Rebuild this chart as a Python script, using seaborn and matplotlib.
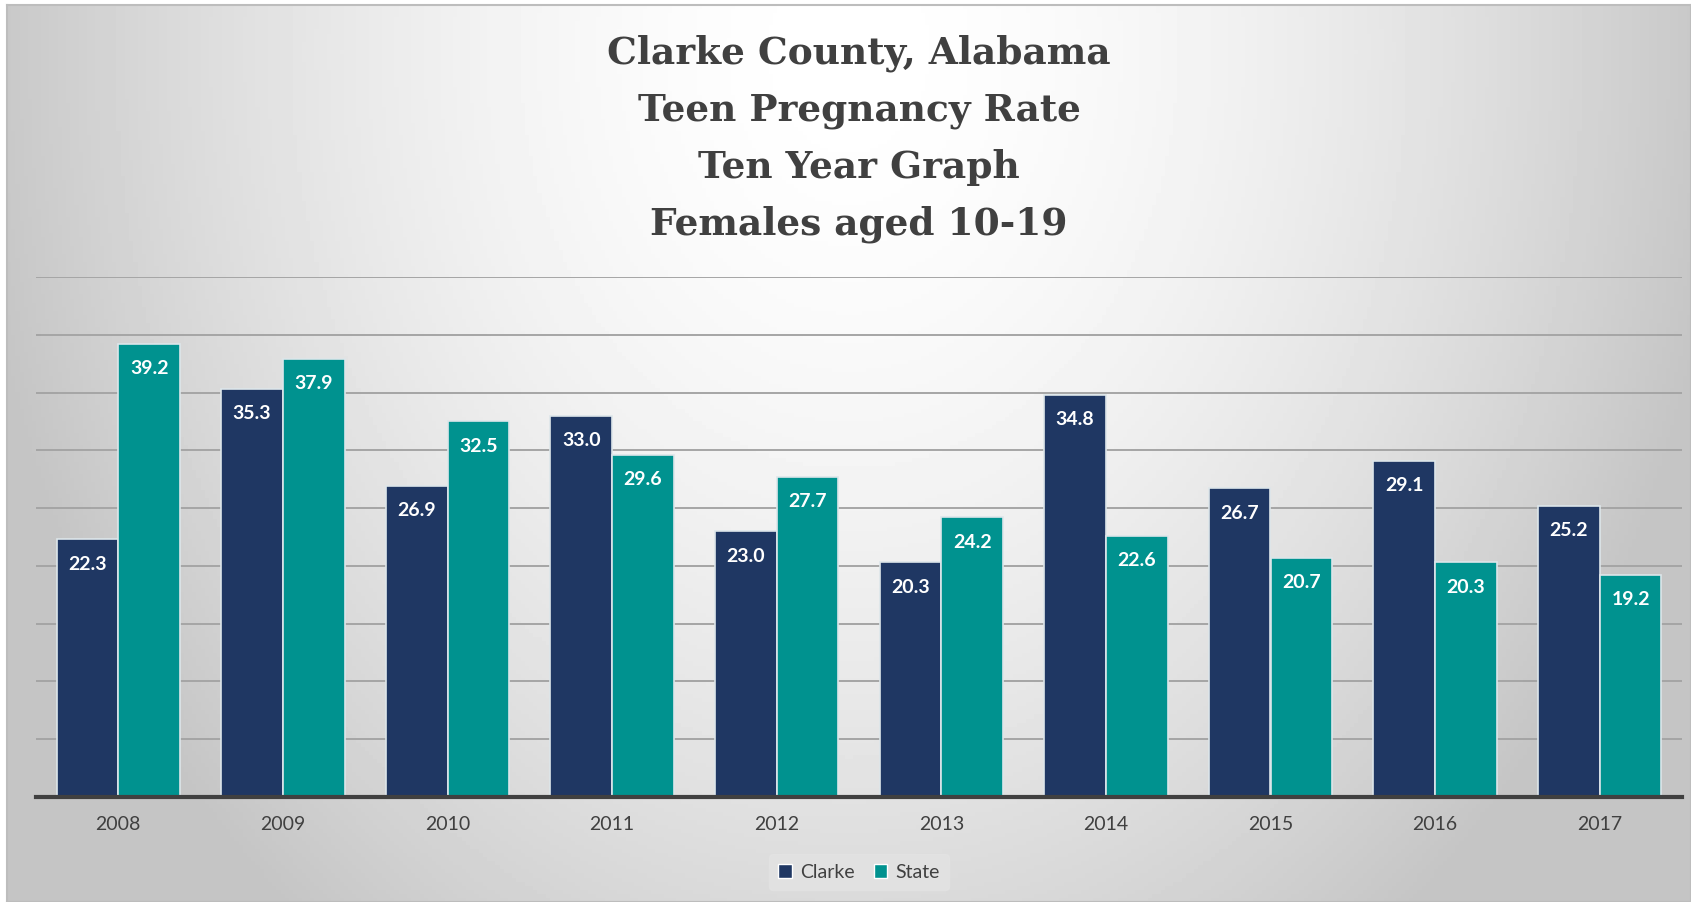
import numpy as np
import pandas as pd
import seaborn as sns
import matplotlib.pyplot as plt
from matplotlib.patches import Patch

years = ["2008", "2009", "2010", "2011", "2012", "2013", "2014", "2015", "2016", "2017"]
clarke = [22.3, 35.3, 26.9, 33.0, 23.0, 20.3, 34.8, 26.7, 29.1, 25.2]
state = [39.2, 37.9, 32.5, 29.6, 27.7, 24.2, 22.6, 20.7, 20.3, 19.2]
series = ["Clarke", "State"]
colors = ["#1F3763", "#00928F"]
title = "Clarke County, Alabama\nTeen Pregnancy Rate\nTen Year Graph\nFemales aged 10-19"


def main():
    df = pd.DataFrame({
        "Year": years * 2,
        "Rate": clarke + state,
        "Series": [series[0]] * len(years) + [series[1]] * len(years),
    })

    sns.set_theme(style="white")
    plt.rcParams["font.family"] = ["Lato", "DejaVu Sans"]

    fig = plt.figure(figsize=(16.91, 9.02), dpi=100)
    fig.patch.set_facecolor("white")

    # soft grey gradient panel behind the chart
    bg = fig.add_axes([7 / 1691, 0, 1684 / 1691, 897 / 902], zorder=-10)
    xx, yy = np.meshgrid(np.linspace(-1, 1, 400), np.linspace(0, 1, 220))
    dist = np.sqrt((xx / 1.05) ** 2 + ((yy - 0.05) / 1.25) ** 2)
    bg.imshow(1 - 0.23 * np.clip(dist, 0, 1) ** 1.7, cmap="gray", vmin=0, vmax=1,
              aspect="auto", extent=[0, 1, 0, 1], origin="upper")
    bg.set_xticks([])
    bg.set_yticks([])
    for s in bg.spines.values():
        s.set_color("#BDBDBD")
        s.set_linewidth(1.5)

    ax = fig.add_axes([36 / 1691, 105 / 902, 1646 / 1691, 520 / 902])
    ax.patch.set_alpha(0)
    sns.barplot(data=df, x="Year", y="Rate", hue="Series", palette=colors,
                saturation=1, width=0.75, edgecolor="#DDE6EA", linewidth=1.2,
                ax=ax, legend=False, zorder=3)

    ax.set_ylim(0, 45)
    ax.set_xlim(-0.5, len(years) - 0.5)
    ax.set_yticks(np.arange(0, 46, 5))
    ax.set_yticklabels([])
    ax.yaxis.grid(True, color="#A5A5A5", linewidth=1.4)
    ax.set_axisbelow(True)
    for side in ["left", "right", "top"]:
        ax.spines[side].set_visible(False)
    ax.spines["bottom"].set_color("#404040")
    ax.spines["bottom"].set_linewidth(3)
    ax.spines["bottom"].set_zorder(5)
    ax.tick_params(axis="x", length=0, pad=14, labelsize=14, labelcolor="#404040")
    ax.tick_params(axis="y", length=0)
    ax.set_xlabel("")
    ax.set_ylabel("")

    for cont in ax.containers:
        ax.bar_label(cont, fmt="%.1f", padding=-24, color="white",
                     fontsize=14, fontweight="bold")

    fig.text(0.508, 1 - 139 / 902, title, ha="center", va="center", fontsize=27,
             fontweight="bold", color="#404040", family="DejaVu Serif",
             linespacing=1.68)

    handles = [Patch(facecolor=c, label=s) for c, s in zip(colors, series)]
    leg = fig.legend(handles=handles, loc="center", bbox_to_anchor=(0.508, 1 - 872 / 902),
                     ncol=2, frameon=True, fontsize=14, handlelength=0.7,
                     handleheight=0.7, handletextpad=0.4, columnspacing=1.0,
                     borderpad=0.5)
    leg.get_frame().set_facecolor("#E3E3E3")
    leg.get_frame().set_edgecolor("#E3E3E3")
    for t in leg.get_texts():
        t.set_color("#404040")

    fig.savefig("out.png", dpi=100)


if __name__ == "__main__":
    main()
